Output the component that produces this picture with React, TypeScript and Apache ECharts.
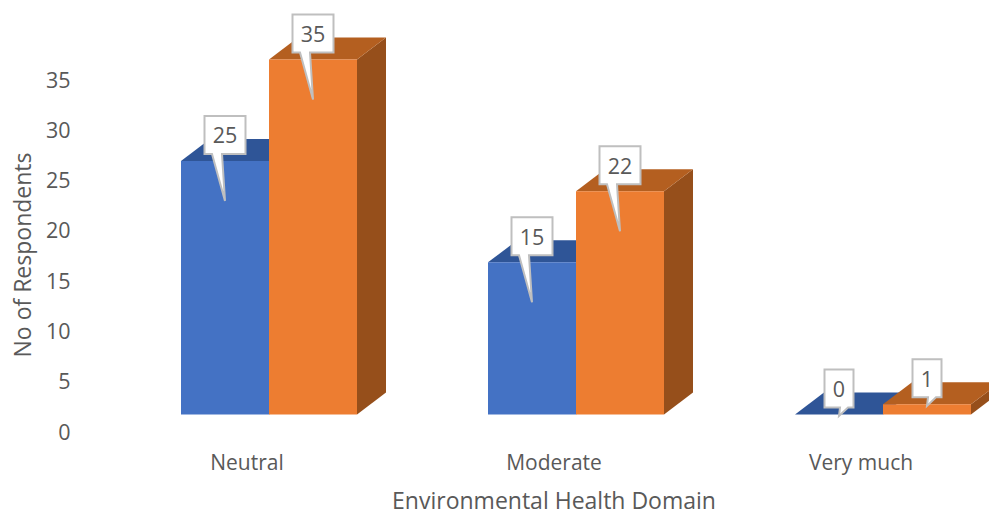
import React, { useEffect, useRef } from "react";
import * as echarts from "echarts";

const categories = ["Neutral", "Moderate", "Very much"];
const seriesA = [25, 15, 0];
const seriesB = [35, 22, 1];
const FONT = '"Open Sans", sans-serif';
const TEXT = "#595959";

// Oblique depth of each column and its width relative to a category band.
const DEPTH_X = 29;
const DEPTH_Y = -22;
const BAR_RATIO = 88 / 307;

type Palette = { front: string; top: string; side: string };
const paletteA: Palette = { front: "#4472C4", top: "#2F5597", side: "#2F5597" };
const paletteB: Palette = { front: "#ED7D31", top: "#B45F20", side: "#964F1B" };

const barWidth = (api: any) => api.size([1, 0])[0] * BAR_RATIO;

// Extruded column: front face, top face and right-hand face.
const columnRenderer = (offset: number, c: Palette) => (_: any, api: any) => {
  const idx = api.value(0);
  const [cx, top] = api.coord([idx, api.value(1)]);
  const [, base] = api.coord([idx, 0]);
  const w = barWidth(api);
  const x0 = cx + offset * w;
  const x1 = x0 + w;
  return {
    type: "group",
    children: [
      {
        type: "polygon",
        shape: { points: [[x1, top], [x1 + DEPTH_X, top + DEPTH_Y], [x1 + DEPTH_X, base + DEPTH_Y], [x1, base]] },
        style: { fill: c.side },
      },
      {
        type: "polygon",
        shape: { points: [[x0, top], [x0 + DEPTH_X, top + DEPTH_Y], [x1 + DEPTH_X, top + DEPTH_Y], [x1, top]] },
        style: { fill: c.top },
      },
      { type: "rect", shape: { x: x0, y: top, width: w, height: base - top }, style: { fill: c.front } },
    ],
  };
};

// Value callout: a white box above the column with a pointer down onto its face.
const calloutRenderer = (offset: number) => (_: any, api: any) => {
  const idx = api.value(0);
  const v = api.value(1);
  const [bandCx, top] = api.coord([idx, v]);
  const w = barWidth(api);
  const cx = bandCx + offset * w + w / 2;
  const text = String(v);
  const half = text.length > 1 ? 20.5 : 14.5;
  const bottom = top - 7;
  const upper = bottom - 38;
  const tall = v >= 5;
  const tipY = tall ? top + 40 : top + 1.5;
  const pointer = tall
    ? [[cx - 3, bottom], [cx, tipY], [cx - 13, bottom]]
    : [[cx + 9, bottom], [cx, tipY], [cx + 1, bottom]];
  return {
    type: "group",
    children: [
      {
        type: "polygon",
        shape: {
          points: [[cx - half, upper], [cx + half, upper], [cx + half, bottom], ...pointer, [cx - half, bottom]],
        },
        style: { fill: "#FFFFFF", stroke: "#BFBFBF", lineWidth: 2 },
      },
      {
        type: "text",
        x: cx,
        y: (upper + bottom) / 2,
        style: { text, fill: TEXT, font: `21.5px ${FONT}`, align: "center", verticalAlign: "middle" },
      },
    ],
  };
};

const points = (values: number[]) => values.map((v, i) => [i, v]);

export default function App() {
  const ref = useRef<HTMLDivElement>(null);
  useEffect(() => {
    const chart = echarts.init(ref.current!, undefined, { renderer: "svg" });
    const onBarAxes = { xAxisIndex: 1, yAxisIndex: 1, silent: true };
    chart.setOption({
      animation: false,
      backgroundColor: "#FFFFFF",
      // The first grid carries the labelled axes; the second, shifted up and right, holds the columns.
      grid: [
        { left: 93.5, top: 79, width: 921, height: 352, outerBoundsMode: "none" },
        { left: 115.5, top: 59.5, width: 921, height: 355, outerBoundsMode: "none" },
      ],
      xAxis: [
        {
          type: "category",
          gridIndex: 0,
          data: categories,
          axisLine: { show: false },
          axisTick: { show: false },
          axisLabel: { color: TEXT, fontFamily: FONT, fontSize: 21, margin: 20 },
          name: "Environmental Health Domain",
          nameLocation: "middle",
          nameGap: 57.5,
          nameTextStyle: { color: TEXT, fontFamily: FONT, fontSize: 23 },
        },
        { type: "category", gridIndex: 1, data: categories, show: false },
      ],
      yAxis: [
        {
          type: "value",
          gridIndex: 0,
          min: 0,
          max: 35,
          interval: 5,
          axisLine: { show: false },
          axisTick: { show: false },
          splitLine: { show: false },
          axisLabel: { color: TEXT, fontFamily: FONT, fontSize: 21.5, margin: 23 },
          name: "No of Respondents",
          nameLocation: "middle",
          nameGap: 60,
          nameTextStyle: { color: TEXT, fontFamily: FONT, fontSize: 23 },
        },
        { type: "value", gridIndex: 1, min: 0, max: 35, show: false },
      ],
      series: [
        { type: "custom", ...onBarAxes, data: points(seriesA), renderItem: columnRenderer(-1, paletteA) },
        { type: "custom", ...onBarAxes, data: points(seriesB), renderItem: columnRenderer(0, paletteB) },
        { type: "custom", ...onBarAxes, data: points(seriesA), renderItem: calloutRenderer(-1) },
        { type: "custom", ...onBarAxes, data: points(seriesB), renderItem: calloutRenderer(0) },
      ],
    });
    return () => chart.dispose();
  }, []);
  return <div ref={ref} style={{ position: "absolute", left: 0, top: 0, width: 989, height: 512 }} />;
}
